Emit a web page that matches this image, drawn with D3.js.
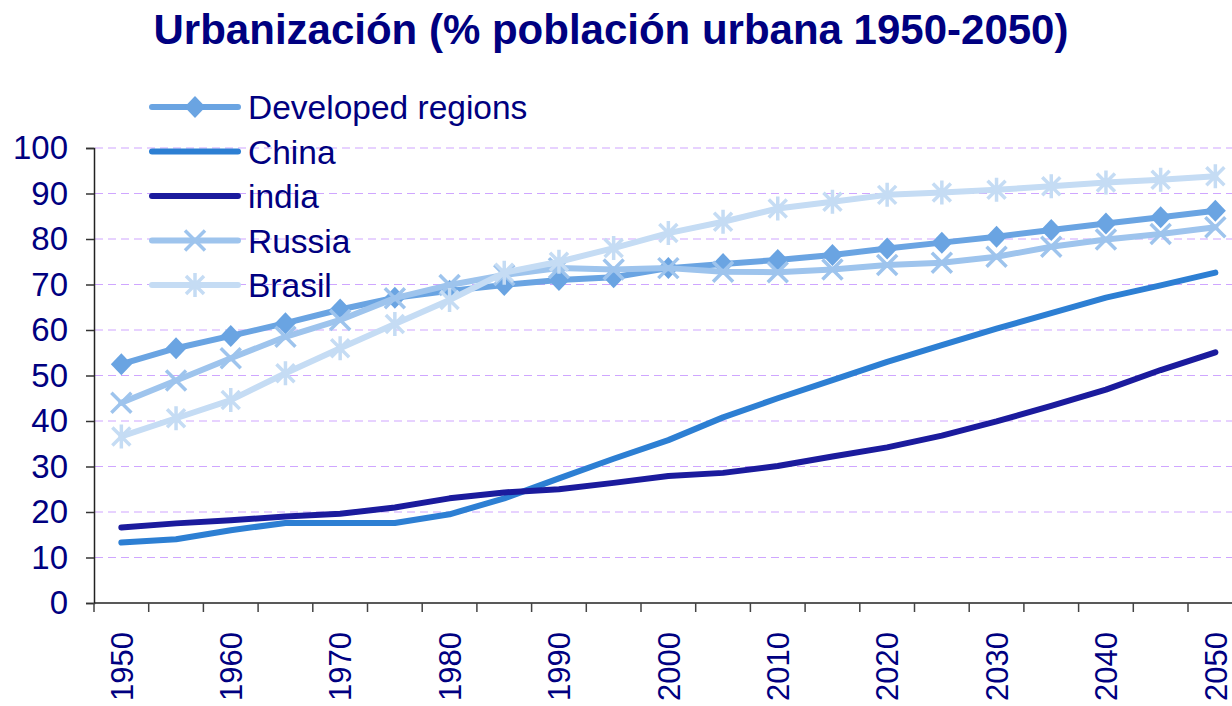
<!DOCTYPE html>
<html>
<head>
<meta charset="utf-8">
<script src="https://cdn.jsdelivr.net/npm/d3@7"></script>
<style>
  body { margin: 0; background: #fff; }
  svg { display: block; font-family: Arial, "Liberation Sans", sans-serif; }
</style>
</head>
<body>
<svg id="chart"></svg>
<script>
// data (% urban population)
const years = [1950, 1955, 1960, 1965, 1970, 1975, 1980, 1985, 1990, 1995, 2000,
  2005, 2010, 2015, 2020, 2025, 2030, 2035, 2040, 2045, 2050];
const tickYears = [1950, 1960, 1970, 1980, 1990, 2000, 2010, 2020, 2030, 2040, 2050];

const developed = [52.5, 56.0, 58.7, 61.5, 64.5, 67.1, 68.6, 69.9, 71.0, 71.6, 73.6,
  74.5, 75.4, 76.5, 77.9, 79.2, 80.5, 82.0, 83.4, 84.8, 86.2];
const china = [13.3, 14.0, 16.0, 17.6, 17.6, 17.6, 19.5, 23.0, 27.4, 31.7, 35.8,
  40.8, 45.0, 49.0, 53.0, 56.7, 60.3, 63.7, 67.1, 69.8, 72.6];
const india = [16.6, 17.5, 18.2, 19.0, 19.6, 21.0, 23.0, 24.3, 25.0, 26.4, 27.9,
  28.6, 30.1, 32.2, 34.2, 36.8, 39.9, 43.3, 46.9, 51.2, 55.1];
const russia = [44.0, 48.9, 53.8, 58.5, 62.2, 67.0, 69.9, 72.1, 73.6, 73.3, 73.6,
  72.8, 72.7, 73.3, 74.3, 74.8, 76.1, 78.3, 79.9, 81.1, 82.6];
const brasil = [36.6, 40.6, 44.6, 50.5, 56.0, 61.3, 66.6, 72.6, 75.0, 78.0, 81.3,
  83.8, 86.7, 88.2, 89.7, 90.2, 90.8, 91.6, 92.4, 93.0, 93.8];

const seriesNames = ["Developed regions", "China", "india", "Russia", "Brasil"];
const seriesValues = [developed, china, india, russia, brasil];
const seriesColors = ["#6aa4e2", "#2d7fd3", "#1b1b9d", "#9ec4ed", "#c5dcf4"];
const seriesMarkers = ["diamond", null, null, "cross", "star"];

const width = 1232;
const height = 706;
const navy = "#000080";

const svg = d3.select("#chart").attr("width", width).attr("height", height);

const x = d3.scaleBand().domain(years).range([94, 94 + 21 * 54.7]);
const y = d3.scaleLinear().domain([0, 100]).range([603, 148]);

// title
svg.append("text")
  .attr("x", 611)
  .attr("y", 44)
  .attr("text-anchor", "middle")
  .attr("font-size", 42)
  .attr("font-weight", "bold")
  .attr("fill", navy)
  .text("Urbanización (% población urbana 1950-2050)");

// dashed grid lines
svg.append("g")
  .selectAll("line")
  .data(y.ticks(10).filter((d) => d > 0))
  .join("line")
  .attr("x1", 95)
  .attr("x2", width)
  .attr("y1", (d) => y(d))
  .attr("y2", (d) => y(d))
  .attr("stroke", "#cfa6ff")
  .attr("stroke-width", 1.2)
  .attr("stroke-dasharray", "8,5");

// y axis
const yAxis = svg.append("g")
  .attr("transform", "translate(94,0)")
  .call(d3.axisLeft(y).ticks(10).tickSize(8).tickPadding(18));
yAxis.select(".domain").attr("stroke", "#222").attr("stroke-width", 1.5);
yAxis.selectAll(".tick line").attr("stroke", "#333").attr("stroke-width", 1.5);
yAxis.selectAll("text")
  .attr("font-size", 33)
  .attr("font-family", "Arial, 'Liberation Sans', sans-serif")
  .attr("fill", navy);

// x axis: ticks on band boundaries, labels on every other band
const xAxisG = svg.append("g").attr("transform", "translate(0,603)");
xAxisG.append("line")
  .attr("x1", 94).attr("x2", width)
  .attr("stroke", "#222").attr("stroke-width", 1.5);
xAxisG.selectAll(".xtick")
  .data(years.concat([2055]))
  .join("line")
  .attr("class", "xtick")
  .attr("x1", (d, i) => x.range()[0] + i * x.step())
  .attr("x2", (d, i) => x.range()[0] + i * x.step())
  .attr("y1", 0)
  .attr("y2", 9)
  .attr("stroke", "#444")
  .attr("stroke-width", 1.5);
xAxisG.selectAll(".xlabel")
  .data(tickYears)
  .join("text")
  .attr("class", "xlabel")
  .attr("transform", (d) => `translate(${x(d) + x.bandwidth() / 2},29) rotate(-90)`)
  .attr("text-anchor", "end")
  .attr("dy", "0.36em")
  .attr("font-size", 31)
  .attr("fill", navy)
  .text((d) => d);

// markers
function drawMarker(g, type, color) {
  if (type === "diamond") {
    g.append("path")
      .attr("d", "M0,-11L10.5,0L0,11L-10.5,0Z")
      .attr("fill", color);
  } else if (type === "cross") {
    g.append("path")
      .attr("d", "M-10,-10L10,10M-10,10L10,-10")
      .attr("stroke", color)
      .attr("stroke-width", 3.5)
      .attr("fill", "none");
  } else if (type === "star") {
    g.append("path")
      .attr("d", "M-9,-9L9,9M-9,9L9,-9M0,-12L0,12")
      .attr("stroke", color)
      .attr("stroke-width", 3.5)
      .attr("fill", "none");
  }
}

const line = d3.line()
  .x((d, i) => x(years[i]) + x.bandwidth() / 2)
  .y((d) => y(d));

seriesValues.forEach((vals, k) => {
  const g = svg.append("g");
  g.append("path")
    .datum(vals)
    .attr("d", line)
    .attr("fill", "none")
    .attr("stroke", seriesColors[k])
    .attr("stroke-width", 6)
    .attr("stroke-linejoin", "round")
    .attr("stroke-linecap", "round");
  if (seriesMarkers[k]) {
    vals.forEach((v, i) => {
      const m = g.append("g")
        .attr("transform", `translate(${x(years[i]) + x.bandwidth() / 2},${y(v)})`);
      drawMarker(m, seriesMarkers[k], seriesColors[k]);
    });
  }
});

// legend
const legend = svg.append("g");
seriesNames.forEach((name, k) => {
  const cy = 107 + k * 44.5;
  const row = legend.append("g").attr("transform", `translate(0,${cy})`);
  row.append("line")
    .attr("x1", 152).attr("x2", 238)
    .attr("stroke", seriesColors[k])
    .attr("stroke-width", 6)
    .attr("stroke-linecap", "round");
  if (seriesMarkers[k]) {
    const m = row.append("g").attr("transform", "translate(195,0)");
    drawMarker(m, seriesMarkers[k], seriesColors[k]);
  }
  row.append("text")
    .attr("x", 248)
    .attr("dy", "0.36em")
    .attr("font-size", 33.5)
    .attr("fill", navy)
    .text(name);
});
</script>
</body>
</html>
